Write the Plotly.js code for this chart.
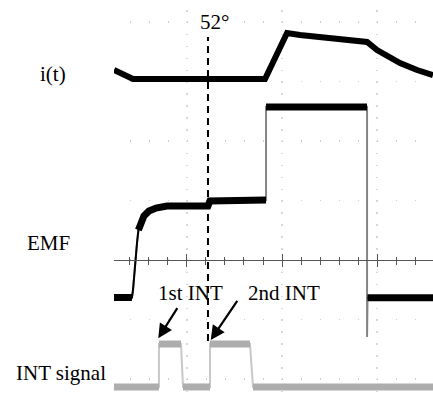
<!DOCTYPE html>
<html>
<head>
<meta charset="utf-8">
<script src="https://cdn.plot.ly/plotly-3.0.1.min.js"></script>
<style>html,body{margin:0;padding:0;background:#fff;}#chart{width:433px;height:395px;}</style>
</head>
<body>
<div id="chart"></div>
<script>
// Oscilloscope screen, units = divisions (x: time div, y: vertical div, 0 = centre line)
const currentX = [-0.768, -0.705, -0.642, -0.568, 0.821, 0.937, 1.053, 1.189, 1.537, 1.895, 2.000, 2.137, 2.242, 2.421, 2.589];
const currentY = [3.193, 3.143, 3.076, 3.042, 3.042, 3.429, 3.815, 3.782, 3.714, 3.664, 3.529, 3.395, 3.311, 3.193, 3.109];

const emfX = [-0.768, -0.579, -0.568, -0.553, -0.542, -0.526, -0.511, -0.484, -0.453, -0.400, -0.326, -0.211, 0.221, 0.242, 0.832, 0.832, 1.895, 1.895, 1.900, 2.589];
const emfY = [-0.630, -0.630, -0.504, -0.168, 0.000, 0.286, 0.504, 0.639, 0.739, 0.824, 0.874, 0.908, 0.908, 0.992, 1.008, 2.571, 2.571, -1.294, -0.635, -0.635];

const intX = [-0.768, -0.295, -0.295, -0.063, -0.042, 0.242, 0.242, 0.663, 0.695, 2.589];
const intY = [-2.134, -2.134, -1.412, -1.412, -2.134, -2.134, -1.412, -1.412, -2.134, -2.134];

const signalLabels = ['i(t)', 'EMF', 'INT signal'];
const markerLabel = '52°';
const markerX = 0.221;
const pulseLabels = ['1st INT', '2nd INT'];

const X_RANGE = [-0.768, 2.589];
const Y_RANGE = [-2.269, 4.370];
const axisPos = (0 - Y_RANGE[0]) / (Y_RANGE[1] - Y_RANGE[0]);

function segs(xs, ys, maxSlope) {
  const ox = [], oy = [];
  let last = -1;
  for (let i = 0; i < xs.length - 1; i++) {
    const dx = xs[i + 1] - xs[i], dy = ys[i + 1] - ys[i];
    const s = dx === 0 ? Infinity : Math.abs(dy / dx);
    if (s <= maxSlope) {
      if (last !== i) {
        if (ox.length) { ox.push(null); oy.push(null); }
        ox.push(xs[i]); oy.push(ys[i]);
      }
      ox.push(xs[i + 1]); oy.push(ys[i + 1]);
      last = i + 1;
    }
  }
  return { x: ox, y: oy };
}

const emfThin = segs(emfX, emfY, 50);
const emfThick = segs(emfX, emfY, 10);
const intThick = segs(intX, intY, 10);

const base = { type: 'scatter', mode: 'lines', hoverinfo: 'skip', showlegend: false, connectgaps: false };
const traces = [
  Object.assign({}, base, { x: intX, y: intY, line: { color: '#c8c8c8', width: 2 } }),
  Object.assign({}, base, { x: intThick.x, y: intThick.y, line: { color: '#adadad', width: 7 } }),
  Object.assign({}, base, { x: emfX, y: emfY, line: { color: '#858585', width: 2 } }),
  Object.assign({}, base, { x: emfThin.x, y: emfThin.y, line: { color: '#000', width: 2 } }),
  Object.assign({}, base, { x: emfThick.x, y: emfThick.y, line: { color: '#000', width: 7 } }),
  Object.assign({}, base, { x: currentX, y: currentY, line: { color: '#000', width: 6 } }),
  Object.assign({}, base, { x: [], y: [], xaxis: 'x2', yaxis: 'y' })
];

const SERIF = 'Liberation Serif';
function serif() { return { family: SERIF, size: 21, color: '#000' }; }
function label(text, x, y) {
  return { text: text, x: x, y: y, xref: 'x', yref: 'y', showarrow: false, xanchor: 'center', yanchor: 'middle', font: serif() };
}
function sideLabel(text, x, y) {
  return { text: text, x: x, y: y, xref: 'paper', yref: 'paper', showarrow: false, xanchor: 'center', yanchor: 'middle', font: serif() };
}
function arrow(hx, hy, tx, ty) {
  return { text: '', x: hx, y: hy, ax: tx, ay: ty, xref: 'x', yref: 'y', axref: 'x', ayref: 'y',
    showarrow: true, arrowhead: 2, arrowsize: 1.3, arrowwidth: 2.2, arrowcolor: '#000' };
}

const layout = {
  width: 433, height: 395,
  margin: { l: 114, r: 0, t: 0, b: 0 },
  paper_bgcolor: '#fff', plot_bgcolor: '#fff',
  showlegend: false,
  font: serif(),
  xaxis: {
    range: X_RANGE, anchor: 'free', position: axisPos,
    showline: true, linecolor: '#555', linewidth: 1,
    ticks: 'outside', ticklen: 6, tickcolor: '#555', tickwidth: 1,
    tick0: 0, dtick: 1, showticklabels: false, zeroline: false,
    showgrid: true, gridcolor: '#d8d8d8', gridwidth: 1.5, griddash: '0px,10px,1.5px,0.4px',
    minor: { tick0: 0, dtick: 0.2, ticks: 'outside', ticklen: 3.5, tickcolor: '#555', tickwidth: 1, showgrid: false }
  },
  xaxis2: {
    range: X_RANGE, matches: 'x', overlaying: 'x', anchor: 'free', position: axisPos,
    showline: false, ticks: 'inside', ticklen: 6, tickcolor: '#555', tickwidth: 1,
    tick0: 0, dtick: 1, showticklabels: false, showgrid: false, zeroline: false,
    minor: { tick0: 0, dtick: 0.2, ticks: 'inside', ticklen: 3.5, tickcolor: '#555', tickwidth: 1, showgrid: false }
  },
  yaxis: {
    range: Y_RANGE, tick0: 0, dtick: 1, showticklabels: false, ticks: '',
    zeroline: false, showline: false,
    showgrid: true, gridcolor: '#cdcdcd', gridwidth: 1.5, griddash: '0px,15.5px,1.5px,2px'
  },
  shapes: [
    { type: 'line', xref: 'x', yref: 'y', x0: markerX, x1: markerX, y0: -1.36, y1: 3.75,
      line: { color: '#000', width: 2, dash: '7px,5px' } }
  ],
  annotations: [
    label(markerLabel, 0.292, 4.0),
    sideLabel(signalLabels[0], -0.191, 0.8127),
    sideLabel(signalLabels[1], -0.2053, 0.3848),
    sideLabel(signalLabels[2], -0.1677, 0.0557),
    label(pulseLabels[0], 0.037, -0.555),
    label(pulseLabels[1], 1.021, -0.555),
    arrow(-0.302, -1.316, -0.092, -0.785),
    arrow(0.250, -1.345, 0.540, -0.660)
  ]
};

Plotly.newPlot('chart', traces, layout, { staticPlot: true, displayModeBar: false });
</script>
</body>
</html>
